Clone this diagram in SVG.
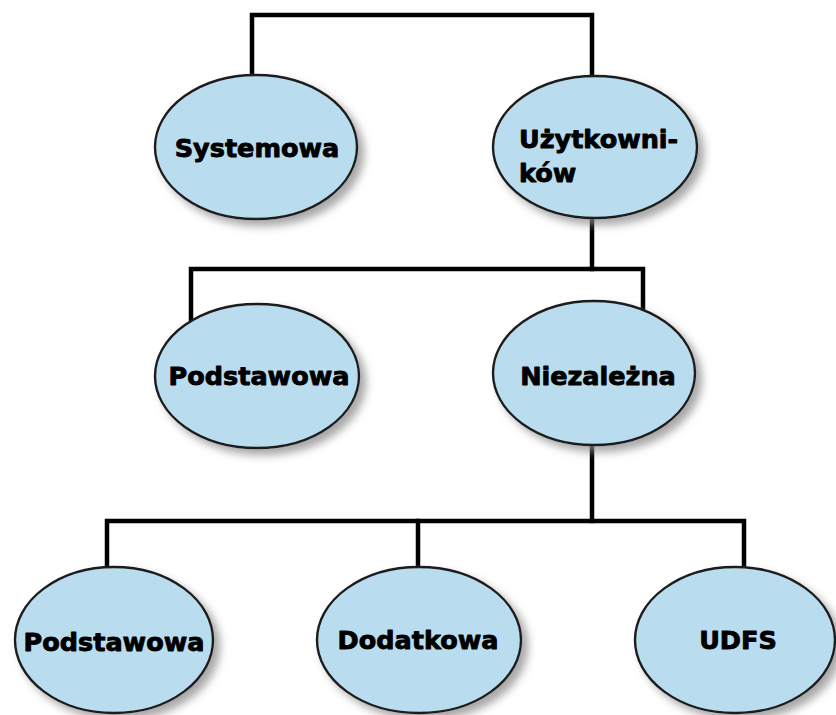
<svg xmlns="http://www.w3.org/2000/svg" width="836" height="715" viewBox="0 0 836 715">
  <defs>
    <filter id="shadow" x="-20%" y="-20%" width="150%" height="150%">
      <feDropShadow dx="6" dy="6" stdDeviation="4" flood-color="#8a8a8a" flood-opacity="0.75"/>
    </filter>
    <style>
      .conn { fill: none; stroke: #000; stroke-width: 4.5; stroke-linecap: square; stroke-linejoin: miter; }
      .node ellipse { fill: #b9ddef; stroke: #1e1e1e; stroke-width: 2.4; filter: url(#shadow); }
      .node text { font-family: "DejaVu Sans", Verdana, sans-serif; font-weight: bold; font-size: 25.5px; fill: #000; stroke: #000; stroke-width: 0.9; stroke-linejoin: round; }
      .c { text-anchor: middle; }
    </style>
  </defs>
  <rect width="836" height="715" fill="#fff"/>

  <!-- connectors -->
  <g id="connectors">
    <path class="conn" d="M252 90 V15 H592 V90"/>
    <path class="conn" d="M592 210 V269"/>
    <path class="conn" d="M191 330 V269 H643 V320"/>
    <path class="conn" d="M592 440 V521"/>
    <path class="conn" d="M107 590 V521 H744 V590"/>
    <path class="conn" d="M418 521 V580"/>
  </g>

  <!-- level 1 -->
  <g id="systemowa" class="node">
    <ellipse cx="256" cy="147" rx="101" ry="72"/>
    <text class="c" x="257" y="157">Systemowa</text>
  </g>
  <g id="uzytkownikow" class="node">
    <ellipse cx="595" cy="147" rx="102" ry="71"/>
    <text x="519" y="148">Użytkowni-</text>
    <text x="519" y="182">ków</text>
  </g>

  <!-- level 2 -->
  <g id="podstawowa-1" class="node">
    <ellipse cx="257" cy="376" rx="102" ry="72"/>
    <text class="c" x="259" y="385">Podstawowa</text>
  </g>
  <g id="niezalezna" class="node">
    <ellipse cx="594" cy="373" rx="101" ry="72"/>
    <text class="c" x="598" y="385">Niezależna</text>
  </g>

  <!-- level 3 -->
  <g id="podstawowa-2" class="node">
    <ellipse cx="114" cy="640" rx="99" ry="73"/>
    <text class="c" x="114" y="651">Podstawowa</text>
  </g>
  <g id="dodatkowa" class="node">
    <ellipse cx="419" cy="640" rx="102" ry="73"/>
    <text class="c" x="418" y="649">Dodatkowa</text>
  </g>
  <g id="udfs" class="node">
    <ellipse cx="735" cy="640" rx="100" ry="73"/>
    <text class="c" x="738" y="649">UDFS</text>
  </g>
</svg>
